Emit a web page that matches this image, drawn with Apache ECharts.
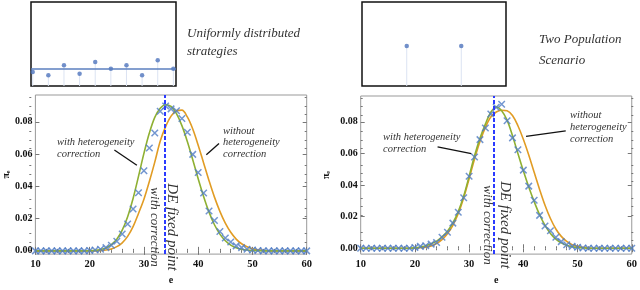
<!DOCTYPE html>
<html><head><meta charset="utf-8">
<script src="https://cdn.jsdelivr.net/npm/echarts@6/dist/echarts.min.js"></script>
<style>html,body{margin:0;padding:0;background:#fff}#c{width:640px;height:290px}</style>
</head><body><div id="c"></div>
<script>
// ---------- data ----------
const eValues = [10,11,12,13,14,15,16,17,18,19,20,21,22,23,24,25,26,27,28,29,30,31,32,33,34,35,36,37,38,39,40,41,42,43,44,45,46,47,48,49,50,51,52,53,54,55,56,57,58,59,60];

const simLeft = [0,0,0,0,0,0,0,0,0,0,
  0.0002,0.0005,0.001,0.002,0.0035,0.006,0.0104,0.0167,0.026,0.036,
  0.0496,0.0637,0.0731,0.0865,0.0898,0.0880,0.0868,0.0820,0.0735,0.0598,
  0.0486,0.0359,0.0247,0.0188,0.0120,0.0080,0.0055,0.0031,0.0020,0.0010,
  0.0005,0.0002,0,0,0,0,0,0,0,0,0];
const withCorrLeft = [0,0,0,0,0,0,0,0,0,0,
  0.0001,0.0003,0.0008,0.0018,0.0038,0.0072,0.0128,0.0212,0.0325,0.0462,
  0.0604,0.0730,0.0827,0.0884,0.0906,0.0895,0.0850,0.0776,0.0678,0.0565,
  0.0447,0.0337,0.0240,0.0162,0.0104,0.0063,0.0036,0.0019,0.0010,0.0005,
  0.0002,0.0001,0,0,0,0,0,0,0,0,0];
const withoutCorrLeft = [0,0,0,0,0,0,0,0,0,0,
  0,0,0.0002,0.0005,0.0012,0.0026,0.0050,0.0090,0.0150,0.0232,
  0.0320,0.0430,0.0550,0.0680,0.0770,0.0835,0.0868,0.0872,0.0830,0.0755,
  0.0655,0.0545,0.0435,0.0333,0.0245,0.0172,0.0115,0.0073,0.0044,0.0025,
  0.0013,0.0006,0.0002,0,0,0,0,0,0,0,0];

const simRight = [0,0,0,0,0,0,0,0,0,0,
  0.0005,0.0012,0.0016,0.0026,0.0036,0.0069,0.0101,0.0159,0.0228,0.0319,
  0.0455,0.0577,0.0687,0.0760,0.0849,0.0892,0.0911,0.0807,0.0698,0.0623,
  0.0494,0.0393,0.0304,0.0208,0.0141,0.0111,0.0069,0.0042,0.0022,0.0012,
  0.0006,0.0002,0,0,0,0,0,0,0,0,0];
const withCorrRight = [0,0,0,0,0,0,0,0,0,0,
  0.0003,0.0008,0.0016,0.0028,0.0045,0.0072,0.0108,0.0160,0.0232,0.0330,
  0.0455,0.0585,0.0695,0.0785,0.0860,0.0893,0.0870,0.0810,0.0712,0.0600,
  0.0490,0.0388,0.0295,0.0212,0.0145,0.0094,0.0058,0.0034,0.0019,0.0010,
  0.0005,0.0002,0,0,0,0,0,0,0,0,0];
const withoutCorrRight = [0,0,0,0,0,0,0,0,0,0,
  0,0.0003,0.0007,0.0015,0.0030,0.0055,0.0092,0.0145,0.0220,0.0320,
  0.0440,0.0565,0.0675,0.0765,0.0830,0.0862,0.0873,0.0870,0.0840,0.0775,
  0.0690,0.0590,0.0480,0.0372,0.0272,0.0188,0.0122,0.0075,0.0043,0.0023,
  0.0012,0.0006,0.0002,0,0,0,0,0,0,0,0];

const deFixedLeft = 33.9;
const deFixedRight = 34.6;

// insets
const uniformIdx = [1,2,3,4,5,6,7,8,9,10];
const uniformShare = [0.167,0.127,0.246,0.146,0.286,0.206,0.246,0.127,0.306,0.206];
const uniformMean = 0.199;
const twoPopE = [25,45];
const twoPopShare = [0.476,0.476];

// ticks
const xTicks = [10,20,30,40,50,60];
const yTicks = [0,0.02,0.04,0.06,0.08];
const yMinorTicks = [0.005,0.01,0.015,0.025,0.03,0.035,0.045,0.05,0.055,0.065,0.07,0.075,0.085,0.09,0.095];

// annotation arrows [from, to] in data units
const arrowsLeft = [[[24.55,0.0625],[28.7,0.0531]], [[43.84,0.0666],[41.5,0.0596]]];
const arrowsRight = [[[24.18,0.0641],[30.41,0.0599]], [[47.82,0.0742],[40.5,0.0707]]];

// ---------- chart ----------
const SERIF = '"Liberation Serif","DejaVu Serif",serif';
const BLUE = '#4f7cc4', ORANGE = '#e19c24', GREEN = '#8fb032';
const chart = echarts.init(document.getElementById('c'), null, {renderer:'canvas'});

const zip = (a,b) => a.map((v,i)=>[v,b[i]]);
const tickStyle = {color:'#777', width:1};

function mainX(grid, pos){
  return {type:'value', gridIndex:grid, position:pos, min:10, max:60, interval:10,
    axisLine:{show:false}, splitLine:{show:false},
    axisTick:{show:true, inside:true, length:4, lineStyle:tickStyle},
    minorTick:{show:true, splitNumber:5, length:2, lineStyle:tickStyle},
    axisLabel:{show:pos==='bottom', margin:5, color:'#111', fontFamily:SERIF, fontWeight:'bold', fontSize:10.5},
    name: pos==='bottom' ? 'e' : '', nameLocation:'middle', nameGap:19,
    nameTextStyle:{fontFamily:SERIF, fontWeight:'bold', fontSize:10, color:'#111'}};
}
function mainY(grid, pos, min, max, gap){
  return {type:'value', gridIndex:grid, position:pos, min:min, max:max,
    axisLine:{show:false}, splitLine:{show:false},
    axisTick:{show:true, inside:true, length:4, lineStyle:tickStyle, customValues:yTicks},
    axisLabel:{show:pos==='left', margin:3, color:'#111', fontFamily:SERIF, fontWeight:'bold', fontSize:10,
      customValues:yTicks, formatter:v=>v.toFixed(2)},
    name: pos==='left' ? '{a|π}{b|e}' : '', nameLocation:'middle', nameGap:gap, nameRotate:90,
    nameTextStyle:{rich:{a:{fontFamily:SERIF, fontSize:10, fontWeight:'bold', color:'#111'},
                         b:{fontFamily:SERIF, fontSize:6, fontWeight:'bold', color:'#111', verticalAlign:'bottom', padding:[4,0,0,0]}}}};
}
function minorY(grid, pos, min, max){
  return {type:'value', gridIndex:grid, position:pos, min:min, max:max,
    axisLine:{show:false}, splitLine:{show:false}, axisLabel:{show:false},
    axisTick:{show:true, inside:true, length:2, lineStyle:tickStyle, customValues:yMinorTicks}};
}
function hiddenX(grid,min,max){ return {type:'value', gridIndex:grid, min:min, max:max, show:false}; }

const mainLGrid = {left:29.3, top:95, width:277.4, height:167.5};
const mainRGrid = {left:360.7, top:96, width:272.6, height:167};
const yLmin = -0.002, yLmax = 0.0966, yRmin = -0.0037, yRmax = 0.0963;

function arrowLines(arr){
  return arr.map(a => [{coord:a[0]},{coord:a[1]}]);
}

function mainSeries(xi, yi, green, orange, sim, deFixed, arrows){
  return [
    {type:'line', xAxisIndex:xi, yAxisIndex:yi, data:zip(eValues, green), symbol:'none', smooth:0.35,
      lineStyle:{color:GREEN, width:1.6}, z:3,
      markLine:{silent:true, symbol:['none','none'], label:{show:false},
        lineStyle:{color:'#2b3bff', type:[4,2], width:2}, data:[{xAxis:deFixed}]}},
    {type:'line', xAxisIndex:xi, yAxisIndex:yi, data:zip(eValues, orange), symbol:'none', smooth:0.35,
      lineStyle:{color:ORANGE, width:1.6}, z:2,
      markLine:{silent:true, symbol:['none','arrow'], symbolSize:[0,7], label:{show:false},
        lineStyle:{color:'#111', type:'solid', width:1.3}, data:arrowLines(arrows)}},
    {type:'scatter', xAxisIndex:xi, yAxisIndex:yi, data:zip(eValues, sim),
      symbol:'path://M0,0L10,10M10,0L0,10', symbolSize:6.5,
      itemStyle:{color:'rgba(0,0,0,0)', borderColor:BLUE, borderWidth:1.5}, z:4}
  ];
}

const txt = (x,y,text,size,extra) => Object.assign({type:'text', x:x, y:y, silent:true,
  style:{text:text, font:'italic '+size+'px '+SERIF, fill:'#333', align:'left', verticalAlign:'middle'}}, extra||{});

const option = {
  animation:false,
  backgroundColor:'#fff',
  grid:[
    {left:31, top:2, width:145, height:84, show:true, borderColor:'#111', borderWidth:1.5, backgroundColor:'#fff'},
    {left:362, top:2, width:144, height:84, show:true, borderColor:'#111', borderWidth:1.5, backgroundColor:'#fff'},
    Object.assign({show:true, borderColor:'#999', borderWidth:1}, mainLGrid),
    Object.assign({show:true, borderColor:'#999', borderWidth:1}, mainRGrid),
    Object.assign({show:false}, mainLGrid),
    Object.assign({show:false}, mainRGrid)
  ],
  xAxis:[
    hiddenX(0,0.89,10.17), hiddenX(1,8.6,61.4),
    mainX(2,'bottom'), mainX(2,'top'), mainX(3,'bottom'), mainX(3,'top'),
    hiddenX(4,10,60), hiddenX(5,10,60)
  ],
  yAxis:[
    {type:'value', gridIndex:0, min:0, max:1, show:false},
    {type:'value', gridIndex:1, min:0, max:1, show:false},
    mainY(2,'left',yLmin,yLmax,23), mainY(2,'right',yLmin,yLmax,0),
    mainY(3,'left',yRmin,yRmax,29), mainY(3,'right',yRmin,yRmax,0),
    minorY(4,'left',yLmin,yLmax), minorY(4,'right',yLmin,yLmax),
    minorY(5,'left',yRmin,yRmax), minorY(5,'right',yRmin,yRmax)
  ],
  series:[
    // left inset
    {type:'bar', xAxisIndex:0, yAxisIndex:0, data:zip(uniformIdx, uniformShare), barWidth:1,
      itemStyle:{color:'#dbe3f2'}, silent:true, z:1},
    {type:'scatter', xAxisIndex:0, yAxisIndex:0, data:zip(uniformIdx, uniformShare), symbol:'circle', symbolSize:4.5,
      itemStyle:{color:'#4f74bd'}, z:3,
      markLine:{silent:true, symbol:['none','none'], label:{show:false},
        lineStyle:{color:'#5b7fbf', type:'solid', width:1.6}, data:[{yAxis:uniformMean}]}},
    // right inset
    {type:'bar', xAxisIndex:1, yAxisIndex:1, data:zip(twoPopE, twoPopShare), barWidth:1,
      itemStyle:{color:'#dbe3f2'}, silent:true, z:1},
    {type:'scatter', xAxisIndex:1, yAxisIndex:1, data:zip(twoPopE, twoPopShare), symbol:'circle', symbolSize:4.5,
      itemStyle:{color:'#4f74bd'}, z:3},
    ...mainSeries(2,2, withCorrLeft, withoutCorrLeft, simLeft, deFixedLeft, arrowsLeft),
    ...mainSeries(4,4, withCorrRight, withoutCorrRight, simRight, deFixedRight, arrowsRight)
  ],
  graphic:[
    txt(187,34,'Uniformly distributed',13),
    txt(187,52,'strategies',13),
    txt(539,40,'Two Population',13),
    txt(539,61,'Scenario',13),
    txt(57,142,'with heterogeneity',10.5),
    txt(57,154,'correction',10.5),
    txt(223,131,'without',10.5),
    txt(223,142,'heterogeneity',10.5),
    txt(223,154,'correction',10.5),
    txt(383,137,'with heterogeneity',10.5),
    txt(383,149,'correction',10.5),
    txt(570,115,'without',10.5),
    txt(570,127,'heterogeneity',10.5),
    txt(570,139,'correction',10.5),
    txt(172,227,'DE fixed point',15,{rotation:-Math.PI/2}),
    txt(154,227,'with correction',13,{rotation:-Math.PI/2}),
    txt(505,225,'DE fixed point',15,{rotation:-Math.PI/2}),
    txt(487,225,'with correction',13,{rotation:-Math.PI/2})
  ]
};
// center rotated texts
option.graphic.forEach(g => { if (g.rotation) { g.style.align = 'center'; } });
chart.setOption(option);
</script>
</body></html>
